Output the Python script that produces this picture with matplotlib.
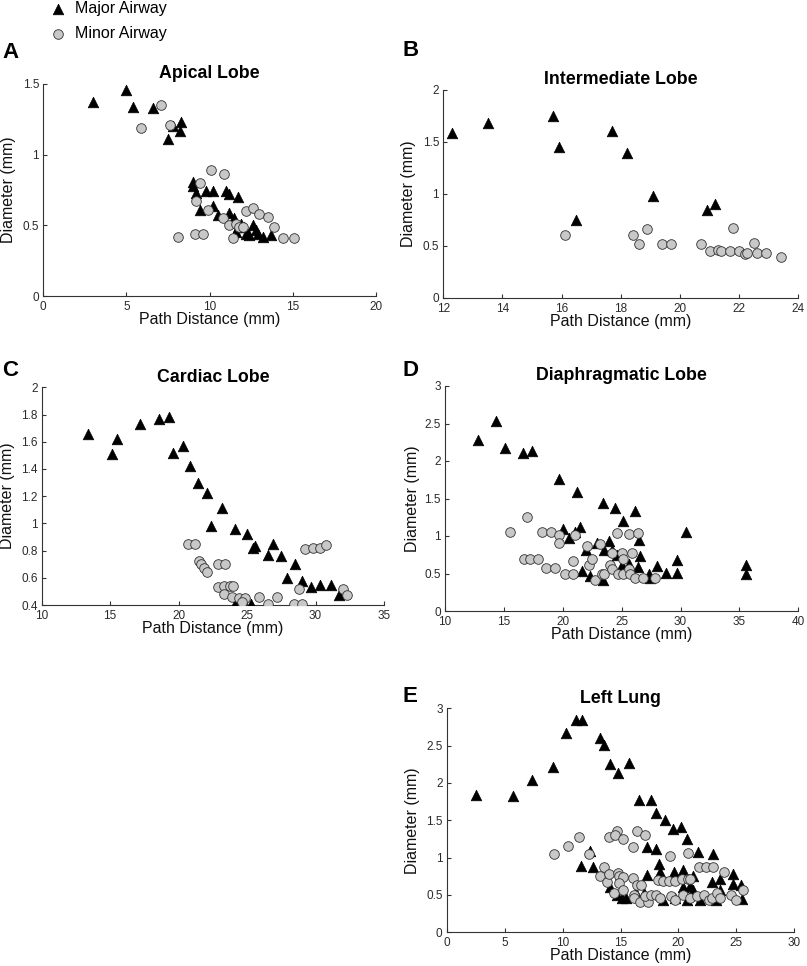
import matplotlib
matplotlib.use("Agg")
import matplotlib.pyplot as plt
from matplotlib.ticker import FuncFormatter, MultipleLocator

plt.rcParams['font.family'] = ['Liberation Sans', 'DejaVu Sans']

# ---------------- data ----------------
# Panel A: Apical Lobe
a_major_x = [3.0, 5.0, 5.4, 6.6, 7.5, 7.8, 8.3, 8.2, 9.0, 9.0, 9.2, 9.8, 10.2, 9.4, 10.2, 10.5,
             11.0, 11.2, 11.7, 11.2, 11.5, 11.7, 11.6, 12.1, 12.2, 12.6, 12.4, 12.9, 12.8, 13.2, 13.7, 11.9]
a_major_y = [1.37, 1.46, 1.34, 1.33, 1.11, 1.20, 1.23, 1.17, 0.81, 0.78, 0.73, 0.74, 0.74, 0.61, 0.64, 0.57,
             0.74, 0.72, 0.70, 0.59, 0.55, 0.49, 0.45, 0.49, 0.44, 0.50, 0.43, 0.44, 0.47, 0.42, 0.43, 0.51]
a_minor_x = [5.9, 7.1, 7.6, 10.1, 10.9, 9.4, 9.2, 9.9, 10.8, 11.2, 11.6, 11.8, 11.4, 8.1, 9.1, 9.6,
             12.2, 12.6, 13.0, 13.5, 13.9, 14.4, 15.1, 12.0]
a_minor_y = [1.19, 1.35, 1.21, 0.89, 0.86, 0.80, 0.67, 0.61, 0.55, 0.50, 0.51, 0.49, 0.41, 0.42, 0.44, 0.44,
             0.60, 0.62, 0.58, 0.56, 0.49, 0.41, 0.41, 0.49]

# Panel B: Intermediate Lobe
b_major_x = [12.3, 13.5, 15.7, 15.9, 16.5, 17.7, 18.2, 19.1, 20.9, 21.2]
b_major_y = [1.59, 1.68, 1.75, 1.45, 0.75, 1.61, 1.39, 0.98, 0.84, 0.90]
b_minor_x = [16.1, 18.4, 18.6, 18.9, 19.4, 19.7, 20.7, 21.0, 21.3, 21.4, 21.7, 22.0, 21.8, 22.2, 22.25,
             22.5, 22.6, 22.9, 23.4]
b_minor_y = [0.60, 0.60, 0.52, 0.66, 0.52, 0.52, 0.52, 0.45, 0.46, 0.45, 0.45, 0.45, 0.67, 0.42, 0.43,
             0.53, 0.43, 0.43, 0.39]

# Panel C: Cardiac Lobe
c_major_x = [13.4, 15.1, 15.5, 17.2, 18.6, 19.3, 19.6, 20.3, 20.8, 21.4, 22.1, 23.2, 22.4, 24.1, 25.0,
             25.4, 25.6, 26.9, 26.5, 27.5, 28.5, 27.9, 29.0, 29.7, 30.3, 31.1, 31.7, 24.1, 25.3]
c_major_y = [1.66, 1.51, 1.62, 1.73, 1.77, 1.78, 1.52, 1.57, 1.42, 1.30, 1.22, 1.11, 0.98, 0.96, 0.92,
             0.82, 0.83, 0.85, 0.77, 0.76, 0.70, 0.60, 0.58, 0.53, 0.55, 0.55, 0.47, 0.41, 0.41]
c_minor_x = [20.7, 21.2, 21.5, 21.6, 21.85, 22.05, 22.9, 23.4, 29.2, 29.8, 30.3, 30.8, 22.9, 23.3, 23.75,
             24.0, 23.3, 23.9, 24.4, 24.85, 24.6, 25.9, 26.5, 27.2, 28.4, 29.0, 28.8, 32.0, 32.3]
c_minor_y = [0.85, 0.85, 0.72, 0.70, 0.67, 0.64, 0.70, 0.70, 0.81, 0.82, 0.82, 0.84, 0.53, 0.54, 0.54,
             0.54, 0.48, 0.46, 0.45, 0.45, 0.42, 0.46, 0.41, 0.46, 0.41, 0.41, 0.52, 0.52, 0.47]

# Panel D: Diaphragmatic Lobe
d_major_x = [12.8, 14.3, 15.1, 16.6, 17.4, 19.7, 21.2, 23.4, 24.4, 26.1, 25.1, 30.5, 35.6, 35.6,
             20.05, 20.5, 21.0, 21.5, 22.0, 21.6, 22.9, 22.3, 23.4, 23.5, 23.9, 24.2, 24.6, 25.0, 25.6,
             25.7, 26.6, 26.5, 26.4, 27.3, 27.4, 28.0, 28.8, 29.7, 29.7]
d_major_y = [2.28, 2.54, 2.17, 2.11, 2.14, 1.76, 1.59, 1.44, 1.38, 1.33, 1.20, 1.05, 0.61, 0.50,
             1.09, 0.97, 1.05, 1.12, 0.82, 0.53, 0.91, 0.47, 0.42, 0.81, 0.93, 0.81, 0.75, 0.61, 0.63,
             0.55, 0.73, 0.95, 0.59, 0.50, 0.44, 0.60, 0.51, 0.68, 0.51]
d_minor_x = [15.5, 17.0, 18.2, 19.0, 19.7, 19.7, 21.0, 22.1, 23.2, 24.6, 25.6, 26.4, 25.9, 24.2, 25.0,
             25.1, 16.7, 17.2, 17.9, 18.6, 19.3, 20.2, 20.9, 20.9, 22.2, 22.5, 22.7, 23.3, 23.5, 24.0,
             24.2, 24.7, 25.1, 25.6, 25.7, 26.1, 26.8, 27.8]
d_minor_y = [1.06, 1.25, 1.05, 1.06, 1.01, 0.91, 1.01, 0.87, 0.89, 1.04, 1.03, 1.04, 0.78, 0.78, 0.78,
             0.69, 0.69, 0.69, 0.69, 0.58, 0.58, 0.49, 0.49, 0.67, 0.61, 0.69, 0.42, 0.49, 0.49, 0.61,
             0.56, 0.49, 0.49, 0.56, 0.49, 0.44, 0.44, 0.44]

# Panel E: Left Lung
e_major_x = [2.5, 5.75, 7.4, 9.2, 10.3, 11.2, 11.7, 13.2, 13.6, 14.1, 14.8, 15.7, 16.6, 17.6, 18.1,
             18.8, 19.5, 20.2, 20.7, 21.7, 23.0, 17.3, 18.1, 12.4, 11.6, 12.6, 18.3, 17.3, 18.4, 19.6,
             20.4, 21.3, 22.9, 23.6, 24.7, 25.4, 24.7, 20.4, 21.0, 21.3, 14.1, 14.7, 15.1, 16.3, 17.0,
             18.7, 19.7, 20.7, 21.9, 23.2, 25.5, 23.6, 15.5]
e_major_y = [1.84, 1.83, 2.04, 2.21, 2.67, 2.84, 2.84, 2.60, 2.51, 2.25, 2.13, 2.27, 1.77, 1.77, 1.60,
             1.50, 1.38, 1.41, 1.25, 1.07, 1.05, 1.14, 1.11, 1.09, 0.89, 0.88, 0.91, 0.77, 0.81, 0.81,
             0.83, 0.75, 0.68, 0.72, 0.78, 0.64, 0.65, 0.61, 0.62, 0.57, 0.61, 0.50, 0.46, 0.53, 0.52,
             0.43, 0.46, 0.43, 0.43, 0.43, 0.44, 0.57, 0.46]
e_minor_x = [9.3, 10.5, 11.4, 12.3, 14.0, 14.7, 14.5, 15.2, 16.4, 17.1, 16.05, 19.3, 20.8, 13.2, 13.6,
             13.8, 14.0, 14.75, 14.9, 15.2, 14.4, 14.9, 16.1, 16.45, 16.8, 16.2, 16.2, 16.7, 17.4, 17.1,
             17.6, 18.1, 18.4, 19.4, 18.2, 18.7, 19.2, 19.7, 20.3, 20.8, 21.0, 21.8, 22.4, 23.0, 23.9,
             20.4, 21.0, 21.6, 22.2, 22.6, 22.9, 23.3, 23.6, 24.5, 25.0, 25.6, 19.7, 15.2]
e_minor_y = [1.05, 1.15, 1.27, 1.05, 1.27, 1.36, 1.30, 1.25, 1.36, 1.30, 1.14, 1.02, 1.06, 0.75, 0.88,
             0.67, 0.78, 0.80, 0.75, 0.74, 0.53, 0.66, 0.73, 0.64, 0.63, 0.50, 0.46, 0.41, 0.41, 0.49,
             0.50, 0.50, 0.46, 0.49, 0.70, 0.69, 0.69, 0.69, 0.72, 0.72, 0.71, 0.88, 0.88, 0.87, 0.81,
             0.50, 0.46, 0.48, 0.50, 0.43, 0.46, 0.52, 0.46, 0.50, 0.43, 0.56, 0.43, 0.56]

titles = ["Apical Lobe", "Intermediate Lobe", "Cardiac Lobe", "Diaphragmatic Lobe", "Left Lung"]
letters = ["A", "B", "C", "D", "E"]
legend_labels = ["Major Airway", "Minor Airway"]

# ---------------- layout (pixels) ----------------
W, H = 807, 966
fig = plt.figure(figsize=(W / 100, H / 100), dpi=100)

def px_axes(left, top, right, bottom):
    return fig.add_axes([left / W, 1 - bottom / H, (right - left) / W, (bottom - top) / H])

panels = [
    dict(box=(43.3, 84, 375.7, 296), mx=a_major_x, my=a_major_y, nx=a_minor_x, ny=a_minor_y,
         xlim=(0, 20), xstep=5, ylim=(0, 1.5), ystep=0.5, letter=(2, 52), ylab=16),
    dict(box=(443.3, 90, 798.3, 297.7), mx=b_major_x, my=b_major_y, nx=b_minor_x, ny=b_minor_y,
         xlim=(12, 24), xstep=2, ylim=(0, 2), ystep=0.5, letter=(403, 50), ylab=416),
    dict(box=(41.7, 387.3, 384, 605), mx=c_major_x, my=c_major_y, nx=c_minor_x, ny=c_minor_y,
         xlim=(10, 35), xstep=5, ylim=(0.4, 2), ystep=0.2, letter=(2, 370), ylab=15),
    dict(box=(445, 386, 798.3, 611), mx=d_major_x, my=d_major_y, nx=d_minor_x, ny=d_minor_y,
         xlim=(10, 40), xstep=5, ylim=(0, 3), ystep=0.5, letter=(403, 370), ylab=420),
    dict(box=(446.7, 708.3, 794.3, 932.3), mx=e_major_x, my=e_major_y, nx=e_minor_x, ny=e_minor_y,
         xlim=(0, 30), xstep=5, ylim=(0, 3), ystep=0.5, letter=(403, 697), ylab=420),
]

fmt = FuncFormatter(lambda v, p: ('%g' % round(v, 3)))
text_col = '#2a2a2a'
handles = None
for i, p in enumerate(panels):
    l, t, r, b = p['box']
    ax = px_axes(l, t, r, b)
    hmaj = ax.scatter(p['mx'], p['my'], marker='^', s=58, c='black', edgecolors='black',
                      linewidths=0.5, zorder=3, label=legend_labels[0])
    hmin = ax.scatter(p['nx'], p['ny'], marker='o', s=48, c='#c8c8c8', edgecolors='#303030',
                      linewidths=0.6, zorder=3, label=legend_labels[1])
    if handles is None:
        handles = [hmaj, hmin]
    ax.set_xlim(*p['xlim'])
    ax.set_ylim(*p['ylim'])
    ax.xaxis.set_major_locator(MultipleLocator(p['xstep']))
    ax.yaxis.set_major_locator(MultipleLocator(p['ystep']))
    ax.xaxis.set_major_formatter(fmt)
    ax.yaxis.set_major_formatter(fmt)
    for s in ['top', 'right']:
        ax.spines[s].set_visible(False)
    for s in ['left', 'bottom']:
        ax.spines[s].set_linewidth(0.8)
        ax.spines[s].set_color('#333333')
    ax.tick_params(direction='in', length=3, width=0.8, colors='#333333', labelsize=8.5,
                   labelcolor=text_col)
    ax.tick_params(axis='x', pad=3.5)
    ax.tick_params(axis='y', pad=3)
    ax.set_title(titles[i], fontsize=12.8, fontweight='bold', pad=4)
    ax.set_xlabel('Path Distance (mm)', fontsize=11.5, color='#111111')
    ax.set_ylabel('Diameter (mm)', fontsize=11.5, color='#111111')
    wpx, hpx = r - l, b - t
    ax.xaxis.set_label_coords(0.5, -16 / hpx)
    ax.xaxis.label.set_verticalalignment('top')
    ax.yaxis.set_label_coords((p['ylab'] - l) / wpx, 0.5)
    lx, ly = p['letter']
    fig.text(lx / W, 1 - ly / H, letters[i], fontsize=16, fontweight='bold',
             ha='left', va='center')

fig.legend(handles=handles, labels=legend_labels, loc='upper left',
           bbox_to_anchor=(50 / W, 1 - 1 / H), frameon=False, fontsize=11.5,
           handlelength=1.0, handletextpad=0.55, labelspacing=0.62,
           borderpad=0.0, borderaxespad=0.0, scatterpoints=1)

fig.savefig('out.png', dpi=100)
